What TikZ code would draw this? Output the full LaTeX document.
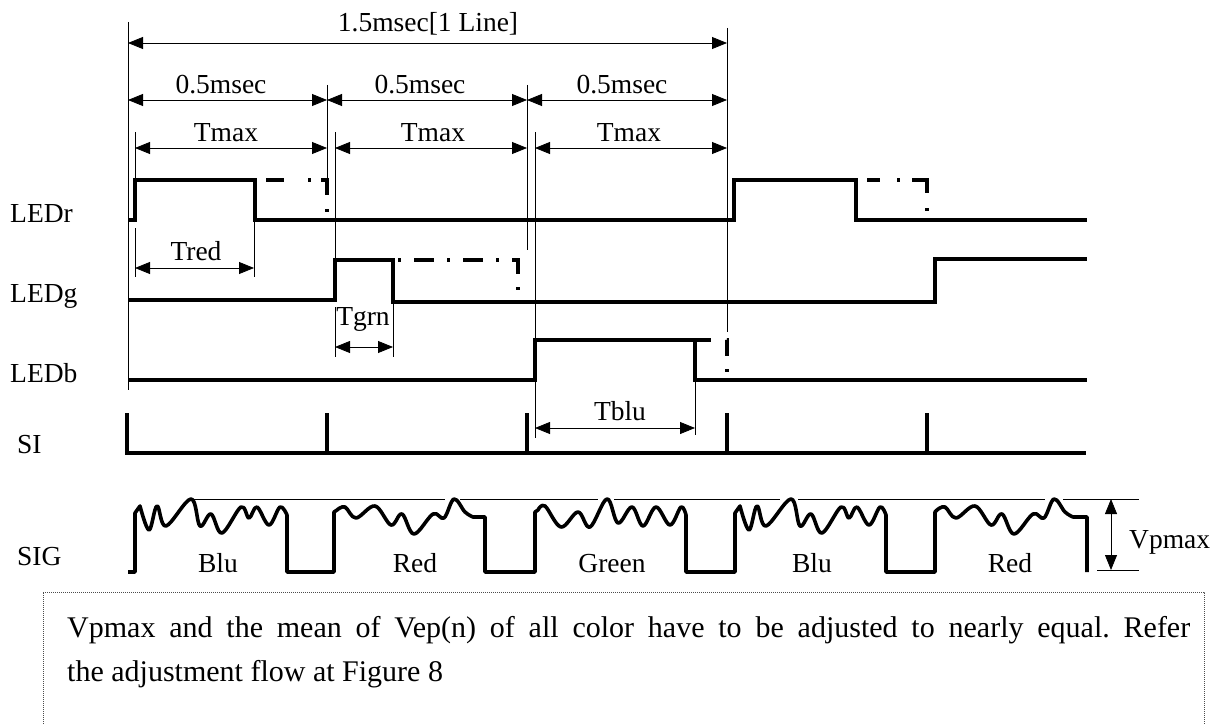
\documentclass[tikz,border=0pt]{standalone}
\usepackage{fontspec}
\setmainfont{Liberation Serif}
\usetikzlibrary{arrows.meta}
\begin{document}
\frenchspacing
\begin{tikzpicture}[x=1pt,y=-1pt,
  sig/.style={line width=3.6pt,line join=miter},
  thinl/.style={line width=0.8pt},
  dimarrow/.style={line width=0.8pt,{Triangle[length=15pt,width=12pt]}-{Triangle[length=15pt,width=12pt]}},
  lbl/.style={inner sep=0pt,anchor=base,font=\fontsize{27.5pt}{32pt}\selectfont},
  lblw/.style={lbl,anchor=base west},
  boxtext/.style={inner sep=0pt,anchor=base west,font=\fontsize{30pt}{36pt}\selectfont},
  framebox/.style={line width=0.8pt,black!70,dash pattern=on 1pt off 1pt}]
\useasboundingbox (0,0) rectangle (1221,725);

% ---------- thin reference lines ----------
\draw[thinl] (128,22) -- (128,390);
\draw[thinl] (727,28) -- (727,332);
\draw[thinl] (327,85) -- (327,180);
\draw[thinl] (527,85) -- (527,250);
\draw[thinl] (135,132) -- (135,220);
\draw[thinl] (135,228) -- (135,277);
\draw[thinl] (254,220) -- (254,277);
\draw[thinl] (335,132) -- (335,300);
\draw[thinl] (335,307) -- (335,357);
\draw[thinl] (393,302) -- (393,357);
\draw[thinl] (535,132) -- (535,438);
\draw[thinl] (695,380) -- (695,435);

% ---------- dimension arrows ----------
\coordinate (a0) at (128,43); \coordinate (a1) at (727,43);
\draw[dimarrow] (a0) -- (a1);
\node[lbl] (t15) at (428,32) {1.5msec[1 Line]};

\coordinate (h0) at (128,100); \coordinate (h1) at (327,100);
\coordinate (h2) at (527,100); \coordinate (h3) at (727,100);
\draw[dimarrow] (h0) -- (h1);
\draw[dimarrow] (h1) -- (h2);
\draw[dimarrow] (h2) -- (h3);
\node[lbl] (th1) at (221,93) {0.5msec};
\node[lbl] (th2) at (420,93) {0.5msec};
\node[lbl] (th3) at (622,93) {0.5msec};

\coordinate (m0a) at (135,148); \coordinate (m0b) at (327,148);
\coordinate (m1a) at (335,148); \coordinate (m1b) at (527,148);
\coordinate (m2a) at (535,148); \coordinate (m2b) at (727,148);
\draw[dimarrow] (m0a) -- (m0b);
\draw[dimarrow] (m1a) -- (m1b);
\draw[dimarrow] (m2a) -- (m2b);
\node[lbl] (tm1) at (226,141) {Tmax};
\node[lbl] (tm2) at (433,141) {Tmax};
\node[lbl] (tm3) at (629,141) {Tmax};

\coordinate (r0) at (135,268); \coordinate (r1) at (254,268);
\draw[dimarrow] (r0) -- (r1);
\node[lbl] (tred) at (196,260) {Tred};

\coordinate (g0) at (335,347); \coordinate (g1) at (393,347);
\draw[dimarrow] (g0) -- (g1);
\node[lbl] (tgrn) at (363,325) {Tgrn};

\coordinate (b0) at (535,428); \coordinate (b1) at (695,428);
\draw[dimarrow] (b0) -- (b1);
\node[lbl] (tblu) at (620,420) {Tblu};

% ---------- signal labels ----------
\node[lblw] (lr) at (10,222) {LEDr};
\node[lblw] (lg) at (10,302) {LEDg};
\node[lblw] (lb) at (10,382) {LEDb};
\node[lblw] (lsi) at (17,453) {SI};
\node[lblw] (lsig) at (17,565) {SIG};

% ---------- LED signals ----------
\draw[sig] (128,220) -- (135,220) -- (135,180) -- (255,180) -- (255,220) -- (734,220)
  -- (734,180) -- (856,180) -- (856,220) -- (1087,220);
\draw[sig,dash pattern=on 0pt off 11pt on 18pt off 24pt on 3pt off 10pt on 21pt off 14pt on 3pt off 60pt]
  (255,180) -- (327,180) -- (327,212);
\draw[sig,dash pattern=on 0pt off 11pt on 13pt off 17pt on 3pt off 12pt on 28pt off 15pt on 3pt off 60pt]
  (856,180) -- (927,180) -- (927,212);

\draw[sig] (128,300) -- (335,300) -- (335,260) -- (393,260) -- (393,302) -- (935,302)
  -- (935,259) -- (1087,259);
\draw[sig,dash pattern=on 0pt off 5pt on 3pt off 13pt on 20pt off 13pt on 3pt off 13pt on 20pt off 13pt on 3pt off 13pt on 20pt off 13pt on 3pt off 60pt]
  (393,260) -- (518,260) -- (518,293);

\draw[sig] (128,380) -- (535,380) -- (535,340) -- (695,340) -- (695,380) -- (1087,380);
\draw[sig,dash pattern=on 16pt off 16pt on 16pt off 13pt on 3pt off 60pt]
  (695,340) -- (727,340) -- (727,372);

% ---------- SI ----------
\draw[sig] (127,413) -- (127,453) -- (1086,453);
\foreach \x in {327,527,727,927} \draw[sig] (\x,413) -- (\x,453);

% ---------- SIG ----------
\draw[sig,line join=round]
  (128,572) -- (135,572) -- (135,513)
  -- plot[smooth,tension=0.6] coordinates {(140,506)(149,530)(157,506)(166,526)(191,499)(200,526)(211,514)(222,533)(241,507)(249,518)(257,507)(269,525)(280,507)(287,515)}
  -- (287,572) -- (334,572) -- (334,512)
  -- plot[smooth,tension=0.6] coordinates {(337,510)(345,507)(356,518)(375,506)(391,525)(402,514)(414,534)(433,514)(444,518)(454,499)(465,512)(473,517)}
  -- (485,517) -- (485,572) -- (535,572) -- (535,512)
  -- plot[smooth,tension=0.6] coordinates {(538,510)(545,506)(561,527)(578,512)(590,527)(607,499)(618,523)(632,507)(643,526)(656,507)(670,525)(681,507)(686,515)}
  -- (686,572) -- (735,572) -- (735,513)
  -- plot[smooth,tension=0.6] coordinates {(740,506)(749,530)(757,506)(766,526)(791,499)(800,526)(811,514)(822,533)(841,507)(849,518)(857,507)(869,525)(880,507)(886,515)}
  -- (886,572) -- (935,572) -- (935,512)
  -- plot[smooth,tension=0.6] coordinates {(937,510)(945,507)(956,518)(975,506)(991,525)(1002,514)(1014,534)(1033,514)(1044,518)(1054,499)(1065,512)(1073,517)}
  -- (1087,517) -- (1087,572);

\foreach \a/\b in {191/445,460/598,614/780,798/1045,1063/1139}
  \draw[thinl] (\a,499) -- (\b,499);
\draw[thinl] (1097,570) -- (1139,570);
\coordinate (v0) at (1111,499); \coordinate (v1) at (1111,570);
\draw[dimarrow] (v0) -- (v1);
\node[lblw] (vp) at (1129,548) {Vpmax};

\node[lbl] (s1) at (218,572) {Blu};
\node[lbl] (s2) at (415,572) {Red};
\node[lbl] (s3) at (612,572) {Green};
\node[lbl] (s4) at (812,572) {Blu};
\node[lbl] (s5) at (1010,572) {Red};

% ---------- note box ----------
\draw[framebox] (43,740) -- (43,592) -- (1204,592) -- (1204,740);
\node[boxtext] (n1) at (67,637) {\makebox[1123pt][s]{Vpmax and the mean of Vep(n) of all color have to be adjusted to nearly equal. Refer}};
\node[boxtext] (n2) at (67,681) {the adjustment flow at Figure 8};
\end{tikzpicture}
\end{document}
